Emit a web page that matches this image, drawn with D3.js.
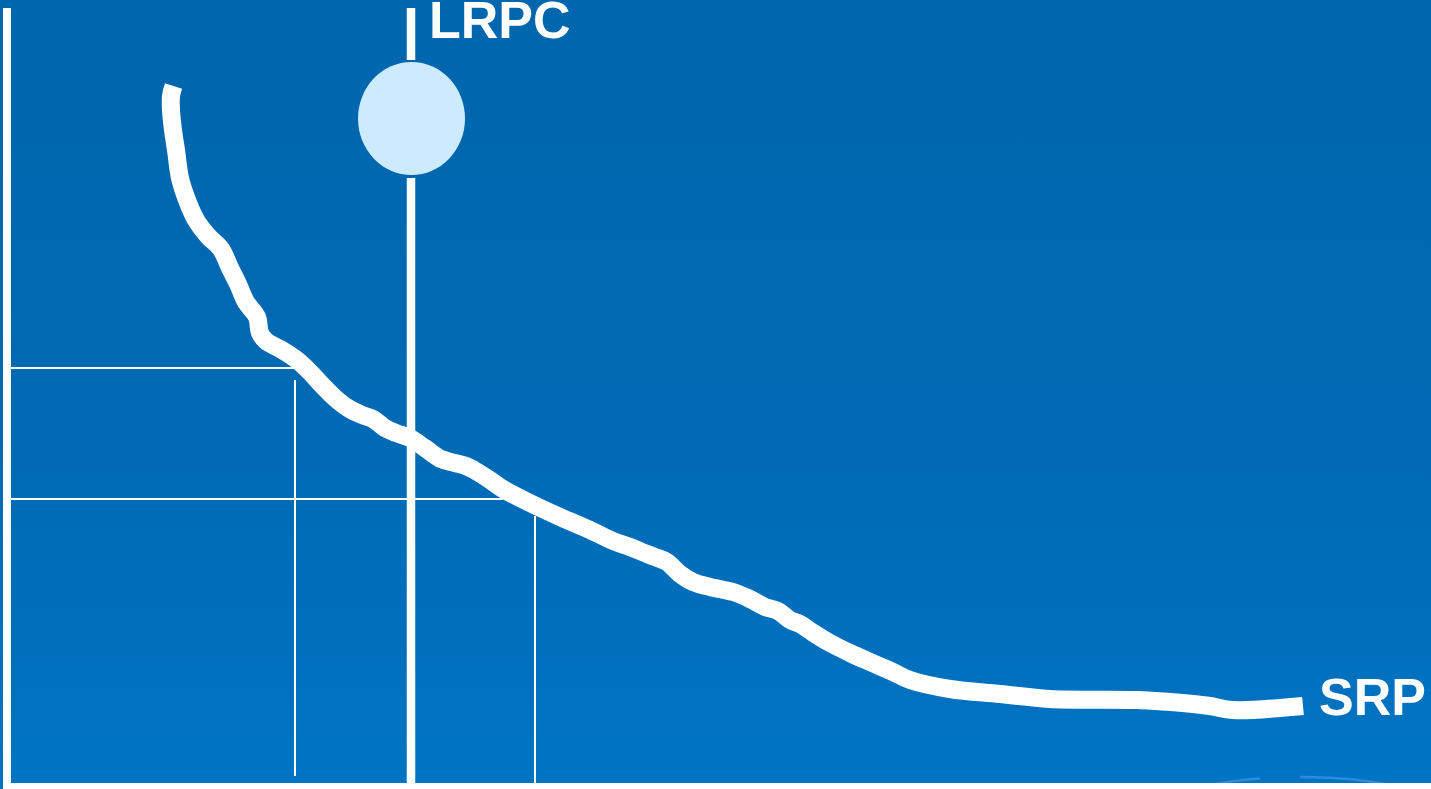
<!DOCTYPE html>
<html>
<head>
<meta charset="utf-8">
<script src="https://cdn.jsdelivr.net/npm/d3@7"></script>
<style>
  html, body { margin: 0; padding: 0; background: #0069B3; overflow: hidden; }
  svg { display: block; }
</style>
</head>
<body>
<svg id="chart" width="1431" height="789"></svg>
<script>
// Short-run price curve (SRP): quantity / price pairs
const srpQty   = [166.5, 164, 164, 166, 169, 173, 180, 189, 201, 214, 223, 231, 239, 250, 253, 259,
                  275, 290, 303, 315, 328, 341, 355, 366, 378, 389, 403, 418, 434, 448, 459, 467,
                  483, 496, 523, 553, 583, 606, 623, 635, 648, 660, 673, 686, 703, 726, 743, 758,
                  771, 783, 793, 805, 823, 843, 863, 886, 903, 943, 993, 1043, 1130, 1176, 1203, 1226, 1296];
const srpPrice = [697, 687, 673, 653, 633, 605, 583, 563, 547, 534, 515, 499, 481, 466, 450, 442,
                  433, 423, 411, 398, 385, 375, 368, 364, 355, 350, 345, 335, 324, 320, 317, 313,
                  303, 294, 280, 266, 253, 242, 236, 231, 226, 221, 209, 201, 196, 191, 184, 176,
                  172, 163, 159, 151, 140, 130, 121, 111, 103, 94, 89, 84, 83, 80, 77, 73, 77];

// Long-run price ceiling (LRPC) position and its marker
const lrpcQty = 404;
const lrpcMarkerPrice = 664.5;

// Reference levels: horizontal price guides and vertical quantity guides
const priceGuides = [ { price: 415, qtyEnd: 288 }, { price: 284, qtyEnd: 496 } ];
const qtyGuides   = [ { qty: 288, priceTop: 403, priceBottom: 7 }, { qty: 528, priceTop: 267, priceBottom: 0 } ];

const labels = { lrpc: "LRPC", srp: "SRP" };

const W = 1431, H = 789;
const x = d3.scaleLinear().domain([0, 1424]).range([7, 1431]);
const y = d3.scaleLinear().domain([0, 775]).range([783, 8]);

const svg = d3.select("#chart");

// background
const defs = svg.append("defs");
const grad = defs.append("linearGradient").attr("id", "bg").attr("x1", 0).attr("y1", 0).attr("x2", 0).attr("y2", 1);
grad.append("stop").attr("offset", "0%").attr("stop-color", "#0066AD");
grad.append("stop").attr("offset", "55%").attr("stop-color", "#006AB4");
grad.append("stop").attr("offset", "100%").attr("stop-color", "#0074C3");
svg.append("rect").attr("width", W).attr("height", H).attr("fill", "url(#bg)");

// faint arc near the bottom right
const arcCx = x(1293), arcCy = 817, arcRx = 150, arcRy = 40;
function arcPoint(px) {
  const t = (px - arcCx) / arcRx;
  return [px, arcCy - arcRy * Math.sqrt(Math.max(0, 1 - t * t))];
}
[[1213, 1260], [1300, 1400]].forEach(([a, b]) => {
  const p0 = arcPoint(a), p1 = arcPoint(b);
  svg.append("path")
    .attr("d", `M${p0[0]},${p0[1]} A${arcRx},${arcRy} 0 0 1 ${p1[0]},${p1[1]}`)
    .attr("fill", "none").attr("stroke", "#2A8DE0").attr("stroke-width", 2.5);
});

// thin guide lines
svg.selectAll("line.pg").data(priceGuides).join("line")
  .attr("class", "pg")
  .attr("x1", x(0)).attr("x2", d => x(d.qtyEnd))
  .attr("y1", d => y(d.price)).attr("y2", d => y(d.price))
  .attr("stroke", "#fff").attr("stroke-width", 2);
svg.selectAll("line.qg").data(qtyGuides).join("line")
  .attr("class", "qg")
  .attr("x1", d => x(d.qty)).attr("x2", d => x(d.qty))
  .attr("y1", d => y(d.priceTop)).attr("y2", d => y(d.priceBottom))
  .attr("stroke", "#fff").attr("stroke-width", 2);

// LRPC vertical line, broken around the marker
const mrx = 53.5, mry = 56.5;
const my = y(lrpcMarkerPrice);
svg.append("line")
  .attr("x1", x(lrpcQty)).attr("x2", x(lrpcQty))
  .attr("y1", y(775)).attr("y2", my - mry - 2)
  .attr("stroke", "#fff").attr("stroke-width", 8.5);
svg.append("line")
  .attr("x1", x(lrpcQty)).attr("x2", x(lrpcQty))
  .attr("y1", my + mry + 3).attr("y2", y(0))
  .attr("stroke", "#fff").attr("stroke-width", 8.5);
svg.append("ellipse")
  .attr("cx", x(lrpcQty) + 0.5).attr("cy", my)
  .attr("rx", mrx).attr("ry", mry)
  .attr("fill", "#CCEBFF");

// SRP curve
const pts = srpQty.map((q, i) => [q, srpPrice[i]]);
const line = d3.line().x(d => x(d[0])).y(d => y(d[1])).curve(d3.curveCatmullRom.alpha(0.5));
svg.append("path")
  .attr("d", line(pts))
  .attr("fill", "none").attr("stroke", "#fff")
  .attr("stroke-width", 18).attr("stroke-linejoin", "round").attr("stroke-linecap", "butt");

// axes
svg.append("rect").attr("x", 3).attr("y", y(775)).attr("width", 8).attr("height", H - y(775)).attr("fill", "#fff");
svg.append("rect").attr("x", 7).attr("y", y(0)).attr("width", W - 7).attr("height", H - y(0)).attr("fill", "#fff");

// labels
svg.append("text")
  .attr("x", x(lrpcQty) + 18).attr("y", 38)
  .attr("font-family", "'Liberation Sans', Arial, sans-serif").attr("font-weight", "bold")
  .attr("font-size", 52).attr("fill", "#fff")
  .text(labels.lrpc);
svg.append("text")
  .attr("x", x(srpQty[srpQty.length - 1]) + 16).attr("y", 715)
  .attr("font-family", "'Liberation Sans', Arial, sans-serif").attr("font-weight", "bold")
  .attr("font-size", 52).attr("fill", "#fff")
  .text(labels.srp);
</script>
</body>
</html>
